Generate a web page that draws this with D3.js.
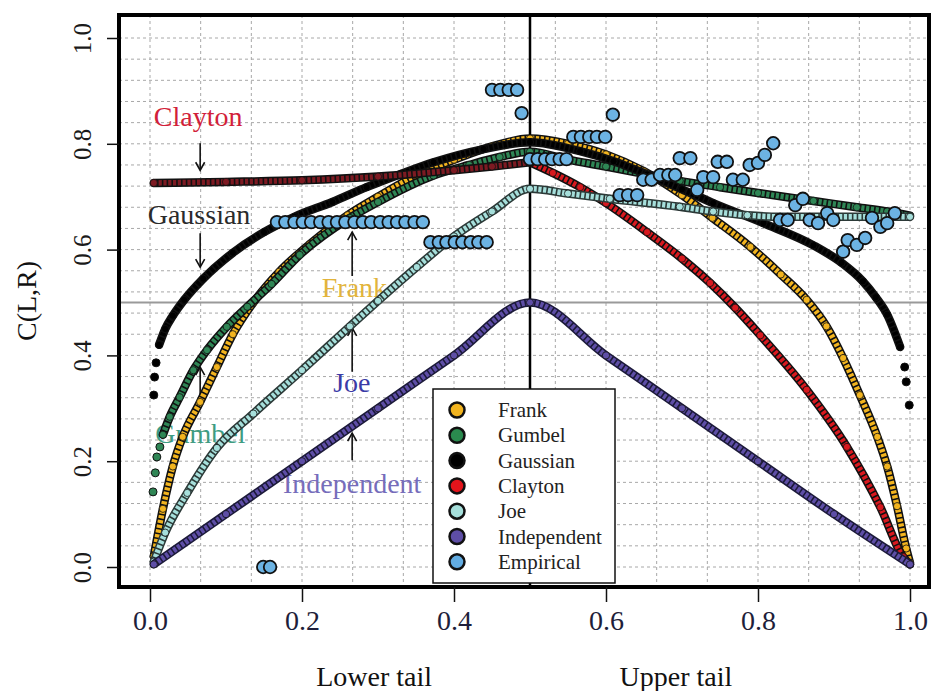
<!DOCTYPE html>
<html>
<head>
<meta charset="utf-8">
<script src="https://cdn.jsdelivr.net/npm/d3@7"></script>
<style>
  body { margin: 0; background: #fff; }
  text { font-family: "Liberation Serif", "Times New Roman", serif; }
</style>
</head>
<body>
<div id="chart"></div>
<script>
// tail dependence curves as [x, C(L,R)]
const frank = [[0.005,0.02],[0.017,0.11],[0.03,0.19],[0.043,0.246],[0.066,0.312],[0.088,0.378],[0.109,0.44],[0.136,0.5],[0.17,0.558],[0.21,0.61],[0.26,0.665],[0.3,0.7],[0.35,0.74],[0.4,0.77],[0.45,0.795],[0.5,0.81],
  [0.55,0.8],[0.6,0.78],[0.65,0.748],[0.7,0.703],[0.74,0.66],[0.79,0.605],[0.83,0.553],[0.864,0.505],[0.89,0.455],[0.912,0.395],[0.934,0.325],[0.957,0.246],[0.97,0.19],[0.983,0.115],[0.995,0.035],[1.0,0.008]]
const gumbel = [[0.017,0.25],[0.026,0.284],[0.039,0.321],[0.057,0.372],[0.075,0.41],[0.101,0.454],[0.128,0.492],[0.16,0.535],[0.197,0.59],[0.263,0.66],[0.3,0.69],[0.373,0.74],[0.42,0.76],[0.46,0.775],[0.5,0.785],
  [0.55,0.77],[0.6,0.757],[0.65,0.743],[0.697,0.73],[0.75,0.718],[0.8,0.707],[0.873,0.692],[0.93,0.68],[0.97,0.672],[1.0,0.664]]
const gumbelTail = [[0.004,0.142],[0.007,0.178],[0.009,0.208],[0.013,0.227]]
const gaussian = [[0.012,0.42],[0.02,0.45],[0.03,0.475],[0.045,0.505],[0.07,0.545],[0.109,0.594],[0.15,0.633],[0.19,0.662],[0.24,0.69],[0.285,0.718],[0.33,0.743],[0.373,0.765],[0.439,0.79],[0.5,0.803],
  [0.566,0.786],[0.61,0.767],[0.654,0.742],[0.7,0.714],[0.741,0.688],[0.807,0.65],[0.873,0.608],[0.91,0.575],[0.938,0.54],[0.955,0.51],[0.97,0.477],[0.987,0.416]]
const gaussianTail = [[0.005,0.325],[0.006,0.359],[0.008,0.386],[0.993,0.378],[0.995,0.35],[0.999,0.306]]
const claytonLow = [[0.005,0.726],[0.1,0.728],[0.2,0.731],[0.3,0.738],[0.4,0.75],[0.45,0.757],[0.5,0.765]]
const claytonUp = [[0.5,0.765],[0.53,0.745],[0.566,0.718],[0.6,0.688],[0.654,0.633],[0.7,0.583],[0.737,0.537],[0.77,0.49],[0.803,0.438],[0.864,0.335],[0.917,0.227],[0.961,0.113],[0.991,0.019],[1.0,0.005]]
const joe = [[0.005,0.01],[0.02,0.065],[0.049,0.14],[0.088,0.225],[0.136,0.29],[0.2,0.372],[0.263,0.455],[0.3,0.503],[0.351,0.567],[0.4,0.625],[0.45,0.672],[0.5,0.715],
  [0.55,0.706],[0.605,0.696],[0.697,0.681],[0.741,0.672],[0.786,0.665],[0.829,0.662],[0.9,0.662],[1.0,0.662]]
const independent = [[0.005,0.005],[0.1,0.1],[0.2,0.2],[0.3,0.3],[0.4,0.4],[0.5,0.5],[0.6,0.4],[0.7,0.3],[0.8,0.2],[0.9,0.1],[1.0,0.005]]

const empirical = [[0.149,0],[0.158,0],
  [0.167,0.652],[0.178,0.652],[0.19,0.652],[0.201,0.652],[0.212,0.652],[0.224,0.652],[0.235,0.652],[0.246,0.652],[0.257,0.652],[0.269,0.652],[0.28,0.652],[0.291,0.652],[0.303,0.652],[0.314,0.652],[0.325,0.652],[0.336,0.652],[0.348,0.652],[0.359,0.652],
  [0.369,0.614],[0.38,0.614],[0.39,0.614],[0.401,0.614],[0.411,0.614],[0.422,0.614],[0.432,0.614],[0.443,0.614],
  [0.45,0.902],[0.461,0.902],[0.472,0.902],[0.483,0.902],[0.489,0.858],
  [0.5,0.771],[0.51,0.771],[0.52,0.771],[0.529,0.771],[0.539,0.771],[0.548,0.771],
  [0.557,0.813],[0.567,0.813],[0.578,0.813],[0.588,0.813],[0.599,0.813],[0.609,0.855],
  [0.618,0.703],[0.629,0.703],[0.641,0.703],[0.649,0.732],[0.66,0.732],[0.671,0.741],[0.682,0.741],[0.691,0.741],
  [0.697,0.773],[0.711,0.773],[0.72,0.713],[0.728,0.737],[0.741,0.737],[0.747,0.766],[0.759,0.766],[0.767,0.732],[0.78,0.732],
  [0.789,0.76],[0.8,0.764],[0.809,0.779],[0.82,0.801],
  [0.829,0.656],[0.839,0.656],[0.849,0.684],[0.859,0.696],[0.868,0.656],[0.879,0.65],[0.891,0.669],[0.899,0.656],
  [0.912,0.596],[0.918,0.618],[0.93,0.609],[0.941,0.622],[0.95,0.66],[0.961,0.643],[0.97,0.65],[0.98,0.669]]

const legendNames = ["Frank", "Gumbel", "Gaussian", "Clayton", "Joe", "Independent", "Empirical"]
const legendColors = ["#f2b41f", "#2a8a4e", "#000000", "#e3141b", "#a6dfdb", "#5e4ea6", "#62ace2"]
const xTicks = [0, 0.2, 0.4, 0.6, 0.8, 1.0]
const yTicks = [0, 0.2, 0.4, 0.6, 0.8, 1.0]

// in-plot labels: text, colour, [x, y] of text start, arrow [x, yFrom, yTo]
const noteText = ["Clayton", "Gaussian", "Frank", "Joe", "Independent", "Gumbel"]
const noteColor = ["#d21f3a", "#2b2b2b", "#e2b43c", "#3b3ba6", "#766dbb", "#3f9c82"]
const notePos = [[0.005,0.834],[-0.003,0.648],[0.226,0.51],[0.241,0.331],[0.175,0.14],[0.007,0.234]]
const noteArrow = [[0.066,0.801,0.75],[0.066,0.631,0.567],[0.266,0.55,0.633],[0.266,0.369,0.452],[0.266,0.202,0.253],[0.066,0.321,0.378]]

const W = 932, H = 691
const frame = {left: 119, right: 929, top: 15, bottom: 587}

const svg = d3.select("#chart").append("svg")
    .attr("width", W)
    .attr("height", H)

const x = d3.scaleLinear().domain([0, 1]).range([150, 910])
const y = d3.scaleLinear().domain([0, 1]).range([567, 38])

// dashed grid
const grid = svg.append("g")
grid.selectAll(".gx").data(d3.range(0, 16).map(k => k / 15)).join("line")
    .attr("x1", d => x(d)).attr("x2", d => x(d))
    .attr("y1", frame.top).attr("y2", frame.bottom)
    .attr("stroke", "#a8a8a8").attr("stroke-width", 1).attr("stroke-dasharray", "3,3")
grid.selectAll(".gy").data(d3.range(0, 26).map(k => k * 0.04)).join("line")
    .attr("x1", frame.left).attr("x2", frame.right)
    .attr("y1", d => y(d)).attr("y2", d => y(d))
    .attr("stroke", "#a8a8a8").attr("stroke-width", 1).attr("stroke-dasharray", "3,3")

// labels and arrows sit under the curves
const notes = svg.append("g")
notes.selectAll("text").data(noteText).join("text")
    .attr("x", (d, i) => x(notePos[i][0]))
    .attr("y", (d, i) => y(notePos[i][1]))
    .attr("font-size", 28)
    .attr("fill", (d, i) => noteColor[i])
    .text(d => d)

noteArrow.forEach(a => {
    const ax = x(a[0]), y0 = y(a[1]), y1 = y(a[2])
    const dir = y1 > y0 ? 1 : -1
    notes.append("line")
        .attr("x1", ax).attr("x2", ax).attr("y1", y0).attr("y2", y1)
        .attr("stroke", "#111").attr("stroke-width", 1.6)
    notes.append("path")
        .attr("d", `M${ax - 4.5},${y1 - dir * 8}L${ax},${y1}L${ax + 4.5},${y1 - dir * 8}`)
        .attr("fill", "none").attr("stroke", "#111").attr("stroke-width", 1.6)
})

// reference lines
svg.append("line")
    .attr("x1", frame.left).attr("x2", frame.right)
    .attr("y1", y(0.5)).attr("y2", y(0.5))
    .attr("stroke", "#9a9a9a").attr("stroke-width", 2)
svg.append("line")
    .attr("x1", x(0.5)).attr("x2", x(0.5))
    .attr("y1", frame.top).attr("y2", frame.bottom)
    .attr("stroke", "#000").attr("stroke-width", 2.5)

const line = d3.line()
    .x(d => x(d[0]))
    .y(d => y(d[1]))
    .curve(d3.curveMonotoneX)

// each curve is a band of beads: dark rim, coloured dashes on top
function band(data, color, rim) {
    const g = svg.append("g")
    g.append("path").datum(data)
        .attr("d", line)
        .attr("fill", "none").attr("stroke", rim || "#111").attr("stroke-width", 8.5)
        .attr("stroke-linecap", "round")
    g.append("path").datum(data)
        .attr("d", line)
        .attr("fill", "none").attr("stroke", color).attr("stroke-width", 5.5)
        .attr("stroke-dasharray", "3.2,1.6")
    g.selectAll("circle").data(data).join("circle")
        .attr("cx", d => x(d[0])).attr("cy", d => y(d[1]))
        .attr("r", 3.6)
        .attr("fill", color).attr("stroke", "#111").attr("stroke-width", 0.8)
}

function dots(data, color, r) {
    svg.append("g").selectAll("circle").data(data).join("circle")
        .attr("cx", d => x(d[0])).attr("cy", d => y(d[1]))
        .attr("r", r)
        .attr("fill", color).attr("stroke", "#111").attr("stroke-width", 1)
}

band(frank, "#f2b41f")
band(gumbel, "#2f8655")
dots(gumbelTail, "#2f8655", 4)
band(gaussian, "#000")
dots(gaussianTail, "#000", 4)
band(claytonLow, "#7d1a22")
band(claytonUp, "#d8191f")
band(joe, "#a6dfdb", "#2c3a38")
band(independent, "#5e4ea6", "#1c1a3a")

svg.append("g").selectAll("circle").data(empirical).join("circle")
    .attr("cx", d => x(d[0])).attr("cy", d => y(d[1]))
    .attr("r", 6.3)
    .attr("fill", "#6cb3e3").attr("stroke", "#111").attr("stroke-width", 1.8)

// legend
const lg = svg.append("g")
lg.append("rect")
    .attr("x", 433).attr("y", 389).attr("width", 182).attr("height", 194)
    .attr("fill", "#fff").attr("stroke", "#111").attr("stroke-width", 1.5)
legendNames.forEach((name, i) => {
    const ly = 410 + i * 25.3
    lg.append("circle")
        .attr("cx", 457).attr("cy", ly).attr("r", 7.5)
        .attr("fill", legendColors[i]).attr("stroke", "#111").attr("stroke-width", 2.5)
    lg.append("text")
        .attr("x", 498).attr("y", ly + 7)
        .attr("font-size", 21).attr("fill", "#222")
        .text(name)
})

// frame
svg.append("rect")
    .attr("x", frame.left).attr("y", frame.top)
    .attr("width", frame.right - frame.left).attr("height", frame.bottom - frame.top)
    .attr("fill", "none").attr("stroke", "#000").attr("stroke-width", 4)

// axes
const xAxis = svg.append("g")
    .attr("transform", `translate(0,${frame.bottom})`)
    .call(d3.axisBottom(x).tickValues(xTicks).tickFormat(d3.format(".1f")).tickSize(15).tickPadding(8).tickSizeOuter(0))
xAxis.select(".domain").remove()
xAxis.selectAll("line").attr("stroke", "#111").attr("stroke-width", 1.5)
xAxis.selectAll("text")
    .attr("font-family", "Liberation Serif, serif")
    .attr("font-size", 28).attr("fill", "#1e1e3a")

const yAxis = svg.append("g")
    .attr("transform", `translate(${frame.left},0)`)
    .call(d3.axisLeft(y).tickValues(yTicks).tickFormat(d3.format(".1f")).tickSize(12).tickSizeOuter(0))
yAxis.select(".domain").remove()
yAxis.selectAll("line").attr("stroke", "#111").attr("stroke-width", 1.5)
yAxis.selectAll("text")
    .attr("transform", "rotate(-90)")
    .attr("x", 0).attr("y", -28).attr("dy", 0)
    .attr("text-anchor", "middle")
    .attr("font-family", "Liberation Serif, serif")
    .attr("font-size", 25).attr("fill", "#1a1a1a")

svg.append("text")
    .attr("transform", `translate(36,${(frame.top + frame.bottom) / 2}) rotate(-90)`)
    .attr("text-anchor", "middle")
    .attr("font-size", 28).attr("fill", "#111")
    .text("C(L,R)")

svg.append("text")
    .attr("x", x(0.295)).attr("y", 686)
    .attr("text-anchor", "middle").attr("font-size", 28).attr("fill", "#111")
    .text("Lower tail")
svg.append("text")
    .attr("x", x(0.692)).attr("y", 686)
    .attr("text-anchor", "middle").attr("font-size", 28).attr("fill", "#111")
    .text("Upper tail")
</script>
</body>
</html>
